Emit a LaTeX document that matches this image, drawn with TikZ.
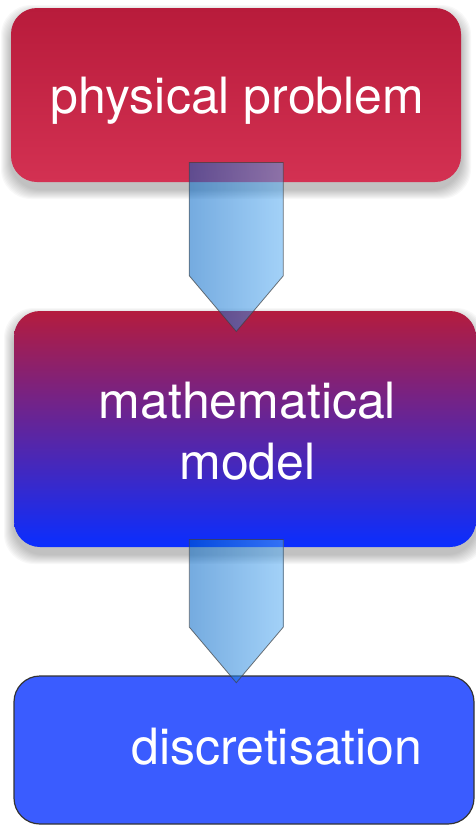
\documentclass[tikz,border=0pt]{standalone}
\usepackage{fontspec}
\setmainfont{TeX Gyre Heros}
\usetikzlibrary{calc}
\definecolor{redtop}{HTML}{B81B3B}
\definecolor{redbot}{HTML}{D33152}
\definecolor{mtop}{HTML}{B41C3E}
\definecolor{mbot}{HTML}{0A2EFF}
\definecolor{dblue}{HTML}{3A5CFF}
\definecolor{arrl}{HTML}{0064C5}
\definecolor{arrr}{HTML}{55ABF2}
\tikzset{
  boxbase/.style={rectangle, rounded corners=26pt, inner sep=0pt, draw=none},
  lbl/.style={text=white, font=\fontsize{50}{61}\selectfont, inner sep=0pt, anchor=base},
  blockarrow/.style={left color=arrl, right color=arrr, fill opacity=0.54,
     draw=black!75, draw opacity=0.7, line width=0.8pt, line join=miter},
  shadowlayer/.style={fill=black, fill opacity=0.028, rounded corners=30pt}
}
\begin{document}
\begin{tikzpicture}[x=1pt,y=-1pt]
\useasboundingbox (0,0) rectangle (475,825);
% soft shadows
\foreach \i in {1,...,10}{
  \path[shadowlayer] (11-\i,8-\i+7) rectangle (461+\i,182+\i+7);
  \path[shadowlayer] (14-\i,311-\i+7) rectangle (476+\i,547+\i+7);
}
% boxes
\node[boxbase, top color=redtop, bottom color=redbot,
      minimum width=450pt, minimum height=174pt] (b1) at (236,95) {};
\node[boxbase, top color=mtop, bottom color=mbot,
      minimum width=462pt, minimum height=236pt] (b2) at (245,429) {};
\node[boxbase, fill=dblue, draw=black!80, line width=1.2pt,
      minimum width=460pt, minimum height=148pt] (b3) at (244,750) {};
% texts
\node[lbl] (t1) at (237.5,113) {physical problem};
\node[lbl] (t2a) at (247.5,418) {mathematical};
\node[lbl] (t2b) at (247.5,479) {model};
\node[lbl] (t3) at (277,764) {discretisation};
% block arrows
\coordinate (a1t) at ($(b1.south)+(0.3,-19.7)$);
\coordinate (a1p) at ($(b2.north)+(-8.7,20.7)$);
\path[blockarrow] ($(a1t)+(-47,0)$) -- ($(a1t)+(47,0)$) -- ($(a1p)+(47,-55.7)$)
   -- (a1p) -- ($(a1p)+(-47,-55.7)$) -- cycle;
\coordinate (a2t) at ($(b2.south)+(-8.7,-7.7)$);
\coordinate (a2p) at ($(b3.north)+(-7.7,7.3)$);
\path[blockarrow] ($(a2t)+(-47,0)$) -- ($(a2t)+(47,0)$) -- ($(a2p)+(47,-55.6)$)
   -- (a2p) -- ($(a2p)+(-47,-55.6)$) -- cycle;
\end{tikzpicture}
\end{document}
